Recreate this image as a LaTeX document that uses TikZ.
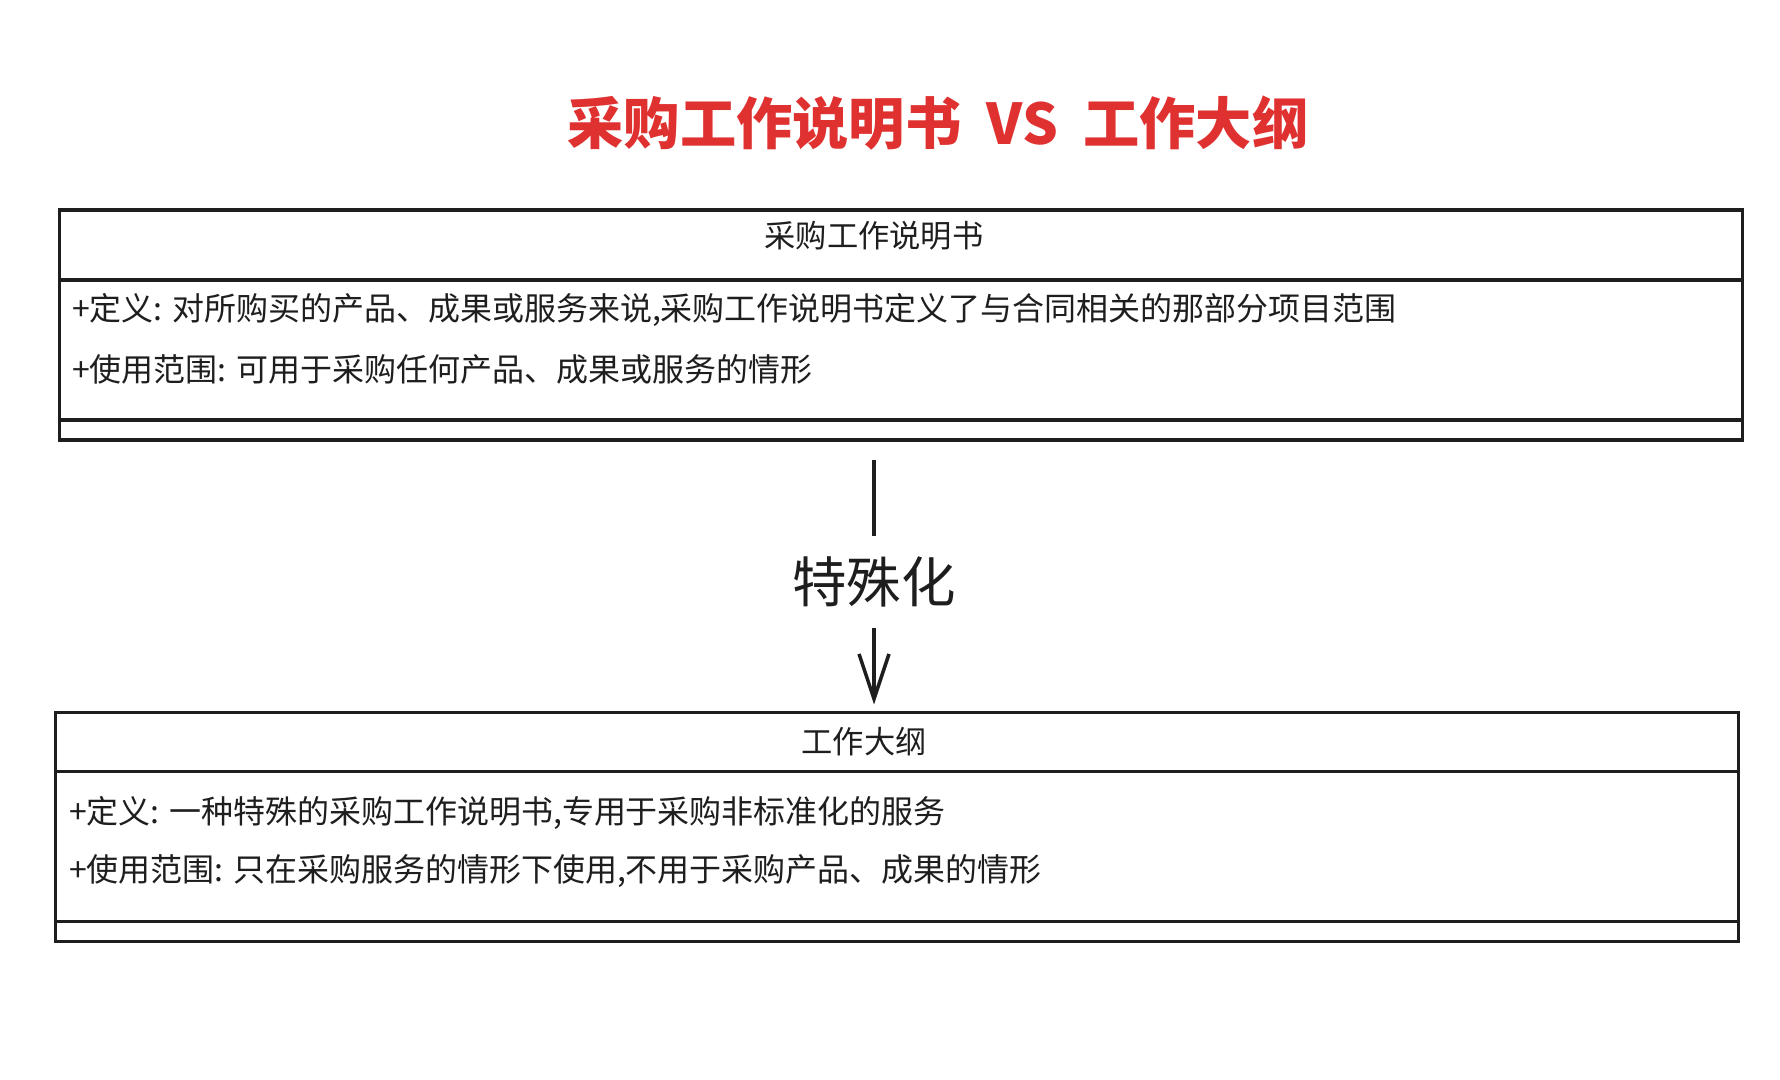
\documentclass[tikz,border=0pt]{standalone}
\usepackage{fontspec}
\setmainfont{Noto Sans CJK SC}
\usepackage{xcolor}
\usepackage{tikz}
\usetikzlibrary{arrows.meta,positioning,calc}

\definecolor{inkred}{HTML}{E03131}
\definecolor{ink}{HTML}{1E1E1E}

\begin{document}
\begin{tikzpicture}[
    part/.style={rectangle, draw=ink, line width=1pt, outer sep=0pt, inner sep=0pt, minimum width=16.83cm},
    row/.style={anchor=west, inner sep=0pt, text=ink, font=\fontsize{9.1pt}{10pt}\selectfont},
    classname/.style={inner sep=0pt, text=ink, font=\fontsize{8.9pt}{10pt}\selectfont},
    arrow/.style={draw=ink, line width=1pt}
]
    \useasboundingbox (0,0) rectangle (17.8,-10.8);

    \node[text=inkred, font=\bfseries\fontsize{16pt}{18pt}\selectfont] (title) at (9.38,-1.23) {采购工作说明书\hspace{0.45em}VS\hspace{0.45em}工作大纲};

    % statement of work
    \node[part, minimum height=0.70cm] (sowhead) at (9.01,-2.45) {};
    \node[part, minimum height=1.40cm, below=0pt of sowhead] (sowattr) {};
    \node[part, minimum height=0.20cm, below=0pt of sowattr] (sowops) {};
    \node[classname] (sowname) at (8.74,-2.36) {采购工作说明书};
    \node[row] (sowdef) at ($(sowattr.north west)+(0.12,-0.30)$) {+定义: 对所购买的产品、成果或服务来说,采购工作说明书定义了与合同相关的那部分项目范围};
    \node[row] (sowuse) at ($(sowattr.north west)+(0.12,-0.89)$) {+使用范围: 可用于采购任何产品、成果或服务的情形};

    % terms of reference
    \node[part, minimum height=0.59cm] (torhead) at (8.97,-7.42) {};
    \node[part, minimum height=1.50cm, below=0pt of torhead] (torattr) {};
    \node[part, minimum height=0.20cm, below=0pt of torattr] (torops) {};
    \node[classname] (torname) at (8.64,-7.42) {工作大纲};
    \node[row] (tordef) at ($(torattr.north west)+(0.13,-0.41)$) {+定义: 一种特殊的采购工作说明书,专用于采购非标准化的服务};
    \node[row] (toruse) at ($(torattr.north west)+(0.13,-1.00)$) {+使用范围: 只在采购服务的情形下使用,不用于采购产品、成果的情形};

    % specialisation
    \node[inner sep=0pt, minimum height=0.91cm, text=ink, font=\fontsize{15.5pt}{18pt}\selectfont] (spec) at (8.74,-5.82) {特殊化};
    \draw[arrow] (spec.north) -- ([yshift=-0.2cm]spec.north |- sowops.south);
    \draw[arrow, -{Straight Barb[length=4.5mm,width=3mm]}] (spec.south) -- ([yshift=0.08cm]spec.south |- torhead.north);
\end{tikzpicture}
\end{document}
